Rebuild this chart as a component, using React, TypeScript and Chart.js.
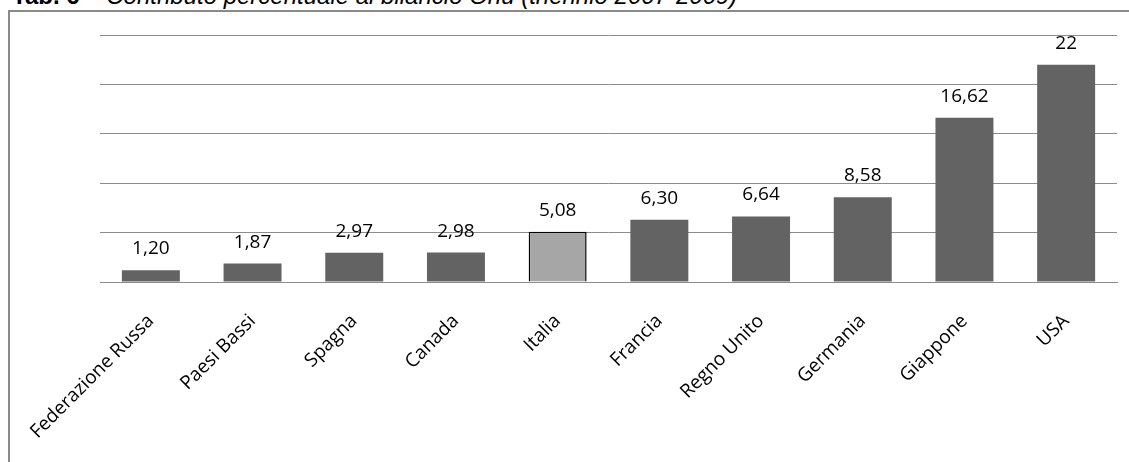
import React, { useEffect, useRef } from "react";
import { Chart, registerables } from "chart.js";

Chart.register(...registerables);

// Contributo percentuale al bilancio Onu, triennio 2007-2009
const paesi = [
  "Federazione Russa",
  "Paesi Bassi",
  "Spagna",
  "Canada",
  "Italia",
  "Francia",
  "Regno Unito",
  "Germania",
  "Giappone",
  "USA",
];
const quote = [1.2, 1.87, 2.97, 2.98, 5.08, 6.3, 6.64, 8.58, 16.62, 22];
const evidenziato = "Italia";
const scalaMax = 25;
const scalaPasso = 5;

const formatta = (v: number) =>
  Number.isInteger(v) ? String(v) : v.toFixed(2).replace(".", ",");

const etichetteValori = {
  id: "etichetteValori",
  afterDatasetsDraw(chart: any) {
    const ctx = chart.ctx;
    const meta = chart.getDatasetMeta(0);
    ctx.save();
    ctx.font = '19px "Open Sans", sans-serif';
    ctx.fillStyle = "#000";
    ctx.textAlign = "center";
    ctx.textBaseline = "alphabetic";
    meta.data.forEach((bar: any, i: number) => {
      ctx.fillText(formatta(quote[i]), bar.x, bar.y - 16);
    });
    ctx.restore();
  },
};

export default function App() {
  const ref = useRef<HTMLCanvasElement>(null);

  useEffect(() => {
    if (!ref.current) return;
    const chart = new Chart(ref.current, {
      type: "bar",
      data: {
        labels: paesi,
        datasets: [
          {
            data: quote,
            backgroundColor: paesi.map((p) => (p === evidenziato ? "#a6a6a6" : "#636363")),
            borderColor: paesi.map((p) => (p === evidenziato ? "#000" : "#636363")),
            borderWidth: paesi.map((p) => (p === evidenziato ? 1.5 : 0)),
            barPercentage: 0.57,
            categoryPercentage: 1,
          },
        ],
      },
      options: {
        responsive: false,
        animation: false,
        layout: { padding: { left: 100, right: 12, top: 35, bottom: 0 } },
        plugins: {
          legend: { display: false },
          tooltip: { enabled: false },
          title: { display: false },
        },
        scales: {
          x: {
            grid: { display: false },
            border: { display: true, color: "#8c8c8c", width: 1 },
            ticks: {
              color: "#000",
              font: { family: '"Open Sans", sans-serif', size: 19 },
              minRotation: 45,
              maxRotation: 45,
              padding: 20,
              autoSkip: false,
            },
            afterFit(scale: any) {
              scale.height = 180;
            },
          },
          y: {
            min: 0,
            max: scalaMax,
            ticks: { display: false, stepSize: scalaPasso },
            grid: { color: "#8c8c8c", lineWidth: 1, drawTicks: false },
            border: { display: false },
            afterFit(scale: any) {
              scale.width = 0;
            },
          },
        },
      },
      plugins: [etichetteValori],
    });
    return () => chart.destroy();
  }, []);

  return (
    <div
      style={{
        position: "absolute",
        left: 0,
        top: 0,
        width: 1129,
        height: 462,
        overflow: "hidden",
        background: "#fff",
      }}
    >
      <div
        style={{
          position: "absolute",
          left: 12,
          top: -16,
          whiteSpace: "nowrap",
          fontFamily: '"Liberation Sans", Arial, sans-serif',
          fontSize: 24,
          lineHeight: "24px",
          color: "#000",
        }}
      >
        <b>Tab. 6</b>
        <i> – Contributo percentuale al bilancio Onu (triennio 2007-2009)</i>
      </div>
      <div
        style={{
          position: "absolute",
          left: 8,
          top: 10,
          width: 1200,
          height: 500,
          borderLeft: "2px solid #8a8a8a",
          borderTop: "2px solid #8a8a8a",
        }}
      />
      <canvas
        ref={ref}
        width={1129}
        height={462}
        style={{ position: "absolute", left: 0, top: 0, width: 1129, height: 462 }}
      />
    </div>
  );
}
